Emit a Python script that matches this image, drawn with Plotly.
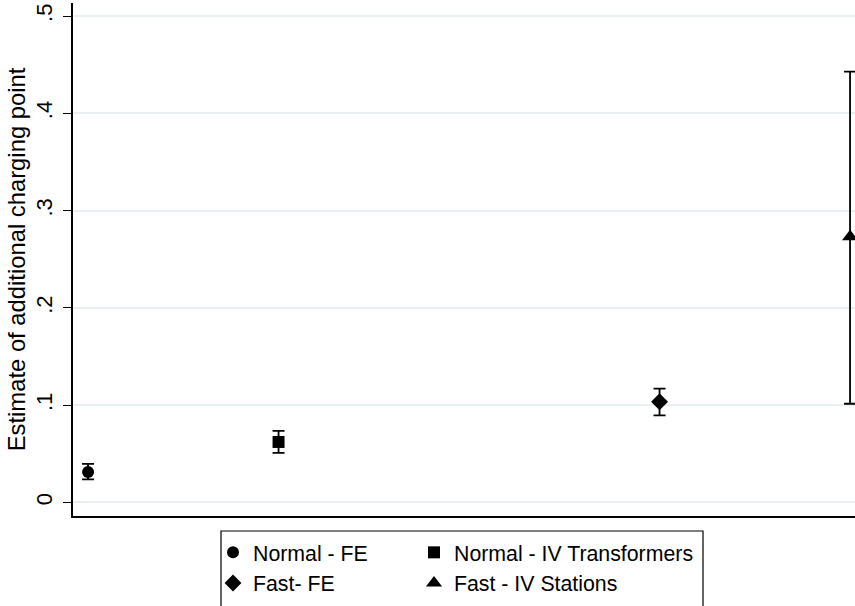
import plotly.graph_objects as go

# ---- data ----
labels = ["Normal - FE", "Normal - IV Transformers", "Fast- FE", "Fast - IV Stations"]
positions = [1, 2, 4, 5]
estimates = [0.0313, 0.0622, 0.1036, 0.2732]
ci_upper = [0.0396, 0.0735, 0.1170, 0.4428]
ci_lower = [0.0238, 0.0509, 0.0896, 0.1015]
symbols = ["circle", "square", "diamond", "triangle-up"]
marker_sizes = [12, 12, 13, 14]
legend_ids = ["legend", "legend2", "legend", "legend2"]

y_tickvals = [0, 0.1, 0.2, 0.3, 0.4, 0.5]
y_ticktext = ["0", ".1", ".2", ".3", ".4", ".5"]

FONT = "Liberation Sans, Arial, Helvetica, sans-serif"

fig = go.Figure()
for i in range(len(labels)):
    fig.add_trace(go.Scatter(
        x=[positions[i]], y=[estimates[i]],
        mode="markers",
        name=labels[i],
        legend=legend_ids[i],
        marker=dict(symbol=symbols[i], size=marker_sizes[i], color="black"),
        error_y=dict(type="data", symmetric=False,
                     array=[ci_upper[i] - estimates[i]],
                     arrayminus=[estimates[i] - ci_lower[i]],
                     color="black", thickness=1.8, width=6),
        cliponaxis=False,
    ))

L, R, T, B = 73, 0, 3, 90
W, H = 855, 606
plot_w = W - L - R
plot_h = H - T - B

def px_x(px):
    return (px - L) / plot_w

def px_y(py):
    return (H - B - py) / plot_h

legend_common = dict(orientation="v", xanchor="left", yanchor="top",
                     itemwidth=30, font=dict(size=21.3),
                     bgcolor="rgba(0,0,0,0)", borderwidth=0, tracegroupgap=0)

fig.update_layout(
    width=W, height=H,
    margin=dict(l=L, r=R, t=T, b=B, pad=0, autoexpand=False),
    paper_bgcolor="white", plot_bgcolor="white",
    font=dict(family=FONT, size=21, color="black"),
    xaxis=dict(range=[0.921, 5.026], showgrid=False, zeroline=False,
               showticklabels=False, ticks="", showline=True,
               linecolor="black", linewidth=1.5, automargin=False),
    yaxis=dict(range=[-0.0139, 0.5134], tickvals=y_tickvals, ticktext=y_ticktext,
               tickangle=-90, ticks="outside", ticklen=8, tickwidth=1.2,
               tickcolor="black", showline=True, linecolor="black", linewidth=1.5,
               showgrid=True, gridcolor="#e9f0f1", gridwidth=1.5, zeroline=False,
               tickfont=dict(size=22), ticklabelstandoff=2, automargin=True,
               title=dict(text="Estimate of additional charging point",
                          font=dict(size=23.8), standoff=0)),
    legend=dict(x=px_x(213), y=px_y(532), **legend_common),
    legend2=dict(x=px_x(414), y=px_y(532), **legend_common),
    shapes=[dict(type="rect", xref="paper", yref="paper",
                 x0=px_x(221), x1=px_x(703), y0=px_y(607), y1=px_y(531),
                 line=dict(color="black", width=1.2), fillcolor="rgba(0,0,0,0)")],
)

fig.write_html("out.html",
               config={"displayModeBar": False},
               post_script="document.body.style.margin='0px';document.body.style.overflow='hidden';")
